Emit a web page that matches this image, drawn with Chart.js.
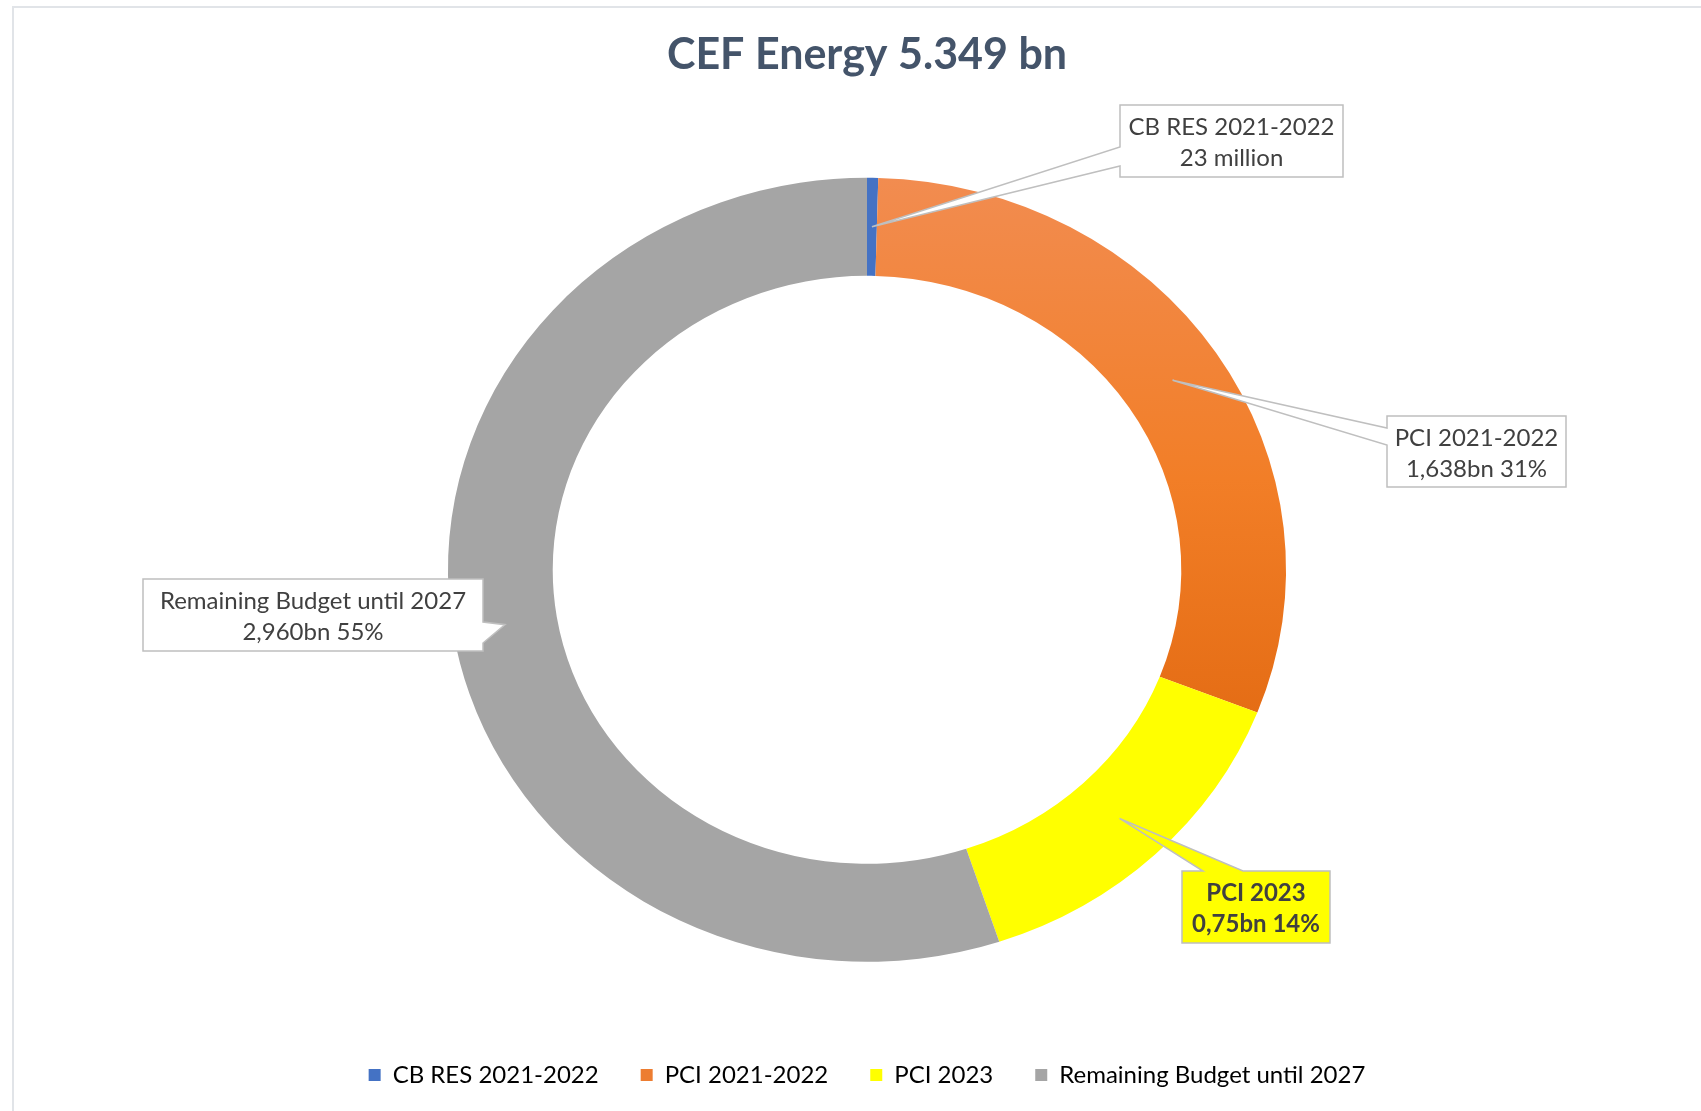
<!DOCTYPE html>
<html>
<head>
<meta charset="utf-8">
<title>CEF Energy 5.349 bn</title>
<script src="https://cdn.jsdelivr.net/npm/chart.js@4.4.1/dist/chart.umd.min.js"></script>
<style>
    html, body { margin: 0; padding: 0; background: #fff; overflow: hidden; }
    .wrap { position: relative; width: 1701px; height: 1111px; }
    .frame {
        position: absolute; left: 12px; top: 6px; right: -4px; bottom: -4px;
        border-left: 2px solid #e1e4e8; border-top: 2px solid #e1e4e8;
        pointer-events: none;
    }
</style>
</head>
<body>
<div class="wrap">
    <canvas id="cefChart" width="1701" height="1111"></canvas>
    <div class="frame"></div>
</div>
<script>
// data (bn EUR)
const categories = ["CB RES 2021-2022", "PCI 2021-2022", "PCI 2023", "Remaining Budget until 2027"];
const values = [0.023, 1.638, 0.75, 2.960];
const calloutLines = [
    ["CB RES 2021-2022", "23 million"],
    ["PCI 2021-2022", "1,638bn 31%"],
    ["PCI 2023", "0,75bn 14%"],
    ["Remaining Budget until 2027", "2,960bn 55%"]
];
const chartTitle = "CEF Energy 5.349 bn";

const colors = ["#4472C4", "#ED7D31", "#FFFF00", "#A5A5A5"];
const FONT = "Lato";
const RADIUS = 392;
const SX = 1.069; // excel drew the ring a bit wider than tall

// callout boxes: where each label sits and where its pointer leaves the box
const calloutBoxes = [
    { x: 1120, y: 105, w: 223, h: 72, side: "left", a: 147, b: 166 },
    { x: 1387, y: 416, w: 179, h: 71, side: "left", a: 428, b: 445 },
    { x: 1182, y: 871, w: 148, h: 72, side: "top", a: 1203, b: 1243, fill: "#FFFF00", bold: true },
    { x: 143, y: 579, w: 340, h: 72, side: "right", a: 622, b: 643 }
];

function orangeFill(context) {
    const area = context.chart.chartArea;
    if (!area) return colors[1];
    const cy = (area.top + area.bottom) / 2;
    const g = context.chart.ctx.createLinearGradient(0, cy - RADIUS, 0, cy + RADIUS * 0.4);
    g.addColorStop(0, "#F28C50");
    g.addColorStop(0.55, "#F27E27");
    g.addColorStop(1, "#E46C14");
    return g;
}

// stretch the ring horizontally around its centre
const stretchPlugin = {
    id: "stretch",
    beforeDatasetsDraw(chart) {
        const arc = chart.getDatasetMeta(0).data[0];
        const ctx = chart.ctx;
        ctx.save();
        ctx.translate(arc.x, arc.y);
        ctx.scale(SX, 1);
        ctx.translate(-arc.x, -arc.y);
    },
    afterDatasetsDraw(chart) {
        chart.ctx.restore();
    }
};

function calloutPath(ctx, box, tip) {
    const { x, y, w, h, a, b } = box;
    ctx.beginPath();
    if (box.side === "left") {
        ctx.moveTo(x, y);
        ctx.lineTo(x + w, y);
        ctx.lineTo(x + w, y + h);
        ctx.lineTo(x, y + h);
        ctx.lineTo(x, b);
        ctx.lineTo(tip.x, tip.y);
        ctx.lineTo(x, a);
    } else if (box.side === "right") {
        ctx.moveTo(x, y);
        ctx.lineTo(x + w, y);
        ctx.lineTo(x + w, a);
        ctx.lineTo(tip.x, tip.y);
        ctx.lineTo(x + w, b);
        ctx.lineTo(x + w, y + h);
        ctx.lineTo(x, y + h);
    } else {
        ctx.moveTo(x, y);
        ctx.lineTo(a, y);
        ctx.lineTo(tip.x, tip.y);
        ctx.lineTo(b, y);
        ctx.lineTo(x + w, y);
        ctx.lineTo(x + w, y + h);
        ctx.lineTo(x, y + h);
    }
    ctx.closePath();
}

// excel style data callouts, pointing at the middle of each slice
const calloutPlugin = {
    id: "callouts",
    afterDraw(chart) {
        const ctx = chart.ctx;
        const meta = chart.getDatasetMeta(0);
        meta.data.forEach((arc, i) => {
            const box = calloutBoxes[i];
            const p = arc.getCenterPoint();
            const tip = { x: arc.x + (p.x - arc.x) * SX, y: p.y };

            ctx.save();
            calloutPath(ctx, box, tip);
            ctx.fillStyle = box.fill || "#ffffff";
            ctx.fill();
            ctx.lineWidth = 1.5;
            ctx.strokeStyle = "#BFBFBF";
            ctx.stroke();

            ctx.fillStyle = "#404040";
            ctx.font = (box.bold ? "bold " : "") + "24px " + FONT;
            ctx.textAlign = "center";
            ctx.textBaseline = "middle";
            const cx = box.x + box.w / 2;
            ctx.fillText(calloutLines[i][0], cx, box.y + 22);
            ctx.fillText(calloutLines[i][1], cx, box.y + 53);
            ctx.restore();
        });
    }
};

const ctx = document.getElementById("cefChart").getContext("2d");

const cefChart = new Chart(ctx, {
    type: "doughnut",
    data: {
        labels: categories,
        datasets: [{
            data: values,
            backgroundColor: (c) => c.dataIndex === 1 ? orangeFill(c) : colors[c.dataIndex],
            borderWidth: 0,
            radius: RADIUS,
            cutout: "75%"
        }]
    },
    options: {
        responsive: false,
        devicePixelRatio: 1,
        animation: false,
        events: [],
        layout: {
            padding: { left: 33, right: 0, top: 0, bottom: 14 }
        },
        plugins: {
            title: {
                display: true,
                text: chartTitle,
                color: "#44546A",
                font: { family: FONT, size: 43, weight: "bold" },
                padding: { top: 29, bottom: 38 }
            },
            legend: {
                position: "bottom",
                labels: {
                    color: "#595959",
                    font: { family: FONT, size: 24 },
                    boxWidth: 12,
                    boxHeight: 12,
                    padding: 42,
                    generateLabels: (chart) => categories.map((name, i) => ({
                        text: name,
                        fillStyle: colors[i],
                        strokeStyle: colors[i],
                        lineWidth: 0,
                        hidden: false,
                        index: i
                    }))
                }
            },
            tooltip: { enabled: false }
        }
    },
    plugins: [stretchPlugin, calloutPlugin]
});
</script>
</body>
</html>
